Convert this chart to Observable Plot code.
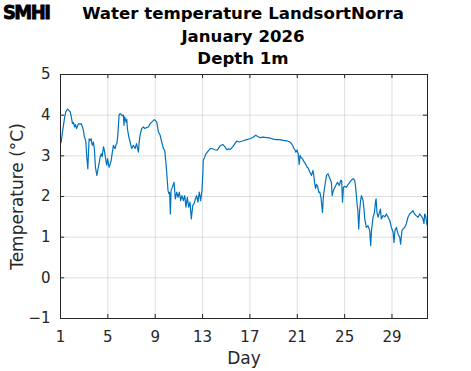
<!DOCTYPE html>
<html>
<head>
<meta charset="utf-8">
<script src="https://cdn.jsdelivr.net/npm/d3@7"></script>
<script src="https://cdn.jsdelivr.net/npm/@observablehq/plot@0.6"></script>
<style>
  html, body { margin: 0; padding: 0; background: #fff; }
  #wrap { position: relative; width: 471px; height: 371px; overflow: hidden; }
  #title { position: absolute; left: 0; width: 486px; top: 3px; text-align: center;
    font-family: "DejaVu Sans", sans-serif; font-weight: bold; font-size: 16.6px; line-height: 22.5px; color: #000; }
  #logo { position: absolute; left: 3px; top: 0px; font-family: "DejaVu Sans Condensed", "DejaVu Sans", sans-serif;
    font-weight: 900; font-size: 20px; letter-spacing: -1.6px; color: #000; transform-origin: left top; transform: scaleX(1.0);
    -webkit-text-stroke: 0.8px #000; }
  #chart { position: absolute; left: 0; top: 0; }
</style>
</head>
<body>
<div id="wrap">
  <div id="chart"></div>
  <div id="logo">SMHI</div>
  <div id="title">Water temperature LandsortNorra<br>January 2026<br>Depth 1m</div>
</div>
<script>
const days = [1.0,1.06,1.15,1.25,1.35,1.45,1.59,1.7,1.82,1.9,2.01,2.1,2.18,2.27,2.35,2.45,2.52,2.65,2.75,2.86,2.95,3.02,3.10,3.14,3.22,3.31,3.36,3.42,3.5,3.59,3.65,3.7,3.78,3.87,3.95,4.07,4.13,4.2,4.28,4.35,4.45,4.52,4.63,4.7,4.77,4.85,4.91,4.98,5.05,5.1,5.2,5.28,5.38,5.47,5.55,5.61,5.7,5.76,5.84,5.95,6.03,6.12,6.2,6.31,6.36,6.42,6.54,6.6,6.65,6.75,6.88,6.95,7.02,7.15,7.3,7.42,7.5,7.58,7.65,7.72,7.86,8.0,8.14,8.3,8.42,8.55,8.71,8.93,9.05,9.13,9.27,9.41,9.55,9.69,9.8,9.9,9.97,10.08,10.15,10.22,10.28,10.34,10.45,10.59,10.7,10.82,10.93,11.04,11.15,11.26,11.38,11.49,11.6,11.71,11.83,11.94,12.05,12.17,12.28,12.39,12.5,12.61,12.72,12.84,12.95,13.02,13.06,13.15,13.29,13.48,13.65,13.77,14.05,14.24,14.47,14.70,14.89,15.05,15.17,15.35,15.54,15.73,15.88,16.1,16.43,16.72,17.0,17.25,17.5,17.62,17.84,18.12,18.41,18.69,18.96,19.25,19.53,19.81,20.1,20.37,20.5,20.6,20.7,20.8,20.88,20.98,21.08,21.16,21.24,21.35,21.44,21.58,21.7,21.83,21.92,22.06,22.2,22.33,22.42,22.48,22.55,22.62,22.72,22.82,22.9,23.0,23.13,23.2,23.33,23.47,23.6,23.75,23.88,23.95,24.05,24.25,24.4,24.54,24.68,24.75,24.82,24.9,25.0,25.15,25.3,25.43,25.57,25.71,25.85,25.93,26.05,26.12,26.19,26.27,26.35,26.42,26.56,26.63,26.7,26.83,26.97,27.12,27.2,27.27,27.40,27.52,27.62,27.66,27.73,27.82,28.02,28.1,28.24,28.4,28.53,28.67,28.81,28.95,29.09,29.17,29.25,29.37,29.51,29.65,29.73,29.84,29.93,30.07,30.21,30.35,30.49,30.63,30.77,30.91,31.05,31.2,31.34,31.48,31.62,31.7,31.76,31.84,31.9,31.96];
const temps = [3.30,3.34,3.55,3.75,3.95,4.08,4.15,4.12,4.08,3.98,3.79,3.82,3.71,3.77,3.67,3.74,3.79,3.78,3.79,3.71,3.60,3.46,3.40,3.34,2.97,2.68,3.05,3.42,3.38,3.42,3.30,3.26,3.34,3.14,2.72,2.52,2.62,2.72,2.85,2.97,3.05,2.98,3.22,3.14,3.01,2.85,2.77,2.93,2.80,2.72,2.80,2.89,3.09,3.26,3.20,3.18,3.28,3.30,3.51,4.00,4.04,4.02,3.99,4.00,3.75,3.96,3.83,3.90,3.67,3.50,3.34,3.25,3.18,3.26,3.18,3.30,3.20,3.09,3.35,3.51,3.67,3.71,3.67,3.70,3.71,3.78,3.83,3.89,3.86,3.83,3.59,3.51,3.34,3.18,3.14,2.85,2.60,2.15,2.07,2.10,1.57,2.15,2.23,2.35,1.94,2.11,1.98,2.11,1.90,2.02,1.90,2.02,1.74,1.98,1.74,1.86,1.45,1.78,1.82,1.94,2.02,1.86,2.11,1.90,2.15,2.55,2.89,2.95,3.05,3.12,3.18,3.18,3.15,3.14,3.24,3.28,3.22,3.15,3.17,3.16,3.22,3.30,3.36,3.34,3.37,3.40,3.42,3.45,3.51,3.48,3.45,3.46,3.45,3.44,3.41,3.40,3.40,3.38,3.37,3.34,3.30,3.26,3.19,3.15,3.09,3.14,3.05,2.79,3.01,2.95,2.93,2.85,2.80,2.72,2.70,2.60,2.52,2.64,2.45,2.31,2.20,2.30,2.25,2.10,2.11,1.98,1.61,1.98,2.27,2.52,2.56,2.44,2.35,2.02,2.15,2.27,2.35,2.27,2.40,2.38,1.86,2.23,2.25,2.23,2.30,2.35,2.40,2.44,2.40,2.23,1.82,1.65,1.20,1.65,1.90,2.02,1.90,1.70,1.45,1.24,1.28,1.16,0.79,1.16,1.49,1.61,1.90,1.94,1.61,1.49,1.69,1.45,1.53,1.50,1.57,1.49,1.41,1.24,1.12,0.87,1.16,1.24,1.08,1.00,0.83,1.16,1.20,1.24,1.33,1.49,1.57,1.61,1.65,1.57,1.53,1.49,1.57,1.52,1.45,1.33,1.57,1.53,1.41,1.30];
const xTicks = [1,5,9,13,17,21,25,29];
const yTicks = [-1,0,1,2,3,4,5];
const xDomain = [1,32];
const yDomain = [-1,5];

const data = days.map((d,i) => ({day: d, temp: temps[i]}));
const ink = "#262626";
const yTickLen = 0.1;   // in °C
const xTickLen = 0.35;  // in days

const chart = Plot.plot({
  width: 471, height: 371,
  marginTop: 74, marginLeft: 60, marginRight: 44, marginBottom: 53,
  style: {fontFamily: "DejaVu Sans, sans-serif", fontSize: "15px", color: ink, background: "white"},
  x: {domain: xDomain, ticks: xTicks},
  y: {domain: yDomain, ticks: yTicks},
  marks: [
    Plot.gridX(xTicks, {stroke: "#000", strokeOpacity: 0.13, strokeWidth: 1}),
    Plot.gridY(yTicks, {stroke: "#000", strokeOpacity: 0.13, strokeWidth: 1}),
    Plot.line(data, {x: "day", y: "temp", stroke: "#0072BD", strokeWidth: 1.2}),
    Plot.ruleX(xTicks, {y1: yDomain[0], y2: yDomain[0] + yTickLen, stroke: ink}),
    Plot.ruleX(xTicks, {y1: yDomain[1], y2: yDomain[1] - yTickLen, stroke: ink}),
    Plot.ruleY(yTicks, {x1: xDomain[0], x2: xDomain[0] + xTickLen, stroke: ink}),
    Plot.ruleY(yTicks, {x1: xDomain[1], x2: xDomain[1] - xTickLen, stroke: ink}),
    Plot.frame({stroke: ink, strokeWidth: 1}),
    Plot.axisX(xTicks, {tickSize: 0, tickPadding: 13, fill: ink, fontSize: 15,
      label: "Day", labelAnchor: "center", labelArrow: "none", labelOffset: 45}),
    Plot.axisY(yTicks, {tickSize: 0, tickPadding: 10, fill: ink, fontSize: 15,
      tickFormat: d => d < 0 ? "\u2212" + Math.abs(d) : String(d),
      label: "Temperature (°C)", labelAnchor: "center", labelArrow: "none", labelOffset: 50})
  ]
});
document.getElementById("chart").appendChild(chart);
chart.querySelectorAll("g[aria-label='x-axis label'] text, g[aria-label='y-axis label'] text").forEach(t => t.setAttribute("font-size", "17"));
</script>
</body>
</html>
